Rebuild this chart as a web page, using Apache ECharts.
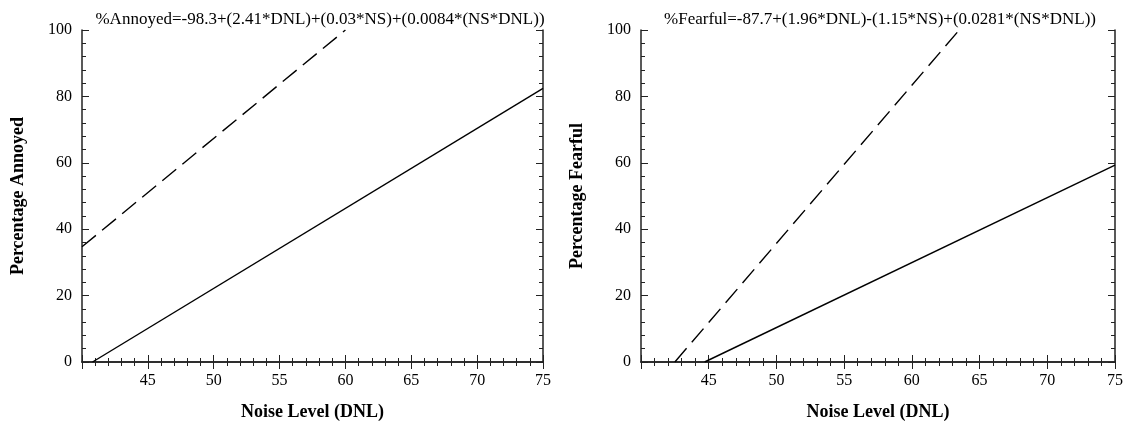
<!DOCTYPE html>
<html>
<head>
<meta charset="utf-8">
<script src="https://cdn.jsdelivr.net/npm/echarts@6/dist/echarts.min.js"></script>
<style>
  html, body { margin: 0; padding: 0; background: #fff; }
  #main { width: 1128px; height: 430px; }
</style>
</head>
<body>
<div id="main"></div>
<script>
// end points (DNL, percent)
var annoyedNS0 = [[40.8, 0], [75, 82.4]];
var annoyedNS100 = [[40, 34.7], [60, 100]];
var fearfulNS0 = [[44.7, 0], [75, 59.3]];
var fearfulNS100 = [[42.5, 0], [63.5, 100]];

var titles = [
  '%Annoyed=-98.3+(2.41*DNL)+(0.03*NS)+(0.0084*(NS*DNL))',
  '%Fearful=-87.7+(1.96*DNL)-(1.15*NS)+(0.0281*(NS*DNL))'
];
var yNames = ['Percentage Annoyed', 'Percentage Fearful'];
var xName = 'Noise Level (DNL)';

var FONT = '"Liberation Serif", "Times New Roman", serif';
var INK = '#222';

var grids = [
  {left: 82, top: 30, width: 461, height: 332},
  {left: 641, top: 30, width: 474, height: 332}
];

// ticks point into the plot box
function ticks() {
  return {
    axisTick: {show: true, inside: true, length: 7, lineStyle: {color: INK, width: 1}},
    minorTick: {show: true, splitNumber: 5, length: 4, lineStyle: {color: INK, width: 1}}
  };
}

function xAxis(g, pos) {
  var bottom = pos === 'bottom';
  var t = ticks();
  return {
    type: 'value', gridIndex: g, position: pos,
    min: 40, max: 75, interval: 5,
    axisLine: {lineStyle: {color: INK, width: 1.5}},
    axisTick: t.axisTick,
    minorTick: t.minorTick,
    axisLabel: {show: bottom, showMinLabel: false, margin: 11, color: '#000', fontFamily: FONT, fontSize: 16},
    splitLine: {show: false},
    name: bottom ? xName : '',
    nameLocation: 'middle', nameGap: 41,
    nameTextStyle: {color: '#000', fontFamily: FONT, fontSize: 18, fontWeight: 'bold'}
  };
}

function yAxis(g, pos) {
  var left = pos === 'left';
  var t = ticks();
  return {
    type: 'value', gridIndex: g, position: pos,
    min: 0, max: 100, interval: 20,
    axisLine: {lineStyle: {color: INK, width: 1.5}},
    axisTick: t.axisTick,
    minorTick: t.minorTick,
    axisLabel: {show: left, margin: 10, color: '#000', fontFamily: FONT, fontSize: 16},
    splitLine: {show: false},
    name: left ? yNames[g] : '',
    nameLocation: 'middle', nameGap: 55,
    nameTextStyle: {color: '#000', fontFamily: FONT, fontSize: 18, fontWeight: 'bold'}
  };
}

function line(data, g, dashed) {
  return {
    type: 'line', xAxisIndex: g * 2, yAxisIndex: g * 2,
    data: data, showSymbol: false, silent: true,
    lineStyle: {color: '#000', width: 1.4, type: dashed ? [18, 8] : 'solid'}
  };
}

var chart = echarts.init(document.getElementById('main'));
chart.setOption({
  animation: false,
  title: [
    {text: titles[0], left: 315, top: 6, textAlign: 'center',
      textStyle: {color: '#000', fontFamily: FONT, fontSize: 17, fontWeight: 'normal'}},
    {text: titles[1], left: 875, top: 6, textAlign: 'center',
      textStyle: {color: '#000', fontFamily: FONT, fontSize: 17, fontWeight: 'normal'}}
  ],
  grid: grids,
  xAxis: [xAxis(0, 'bottom'), xAxis(0, 'top'), xAxis(1, 'bottom'), xAxis(1, 'top')],
  yAxis: [yAxis(0, 'left'), yAxis(0, 'right'), yAxis(1, 'left'), yAxis(1, 'right')],
  series: [
    line(annoyedNS0, 0, false),
    line(annoyedNS100, 0, true),
    line(fearfulNS0, 1, false),
    line(fearfulNS100, 1, true)
  ]
});
</script>
</body>
</html>
